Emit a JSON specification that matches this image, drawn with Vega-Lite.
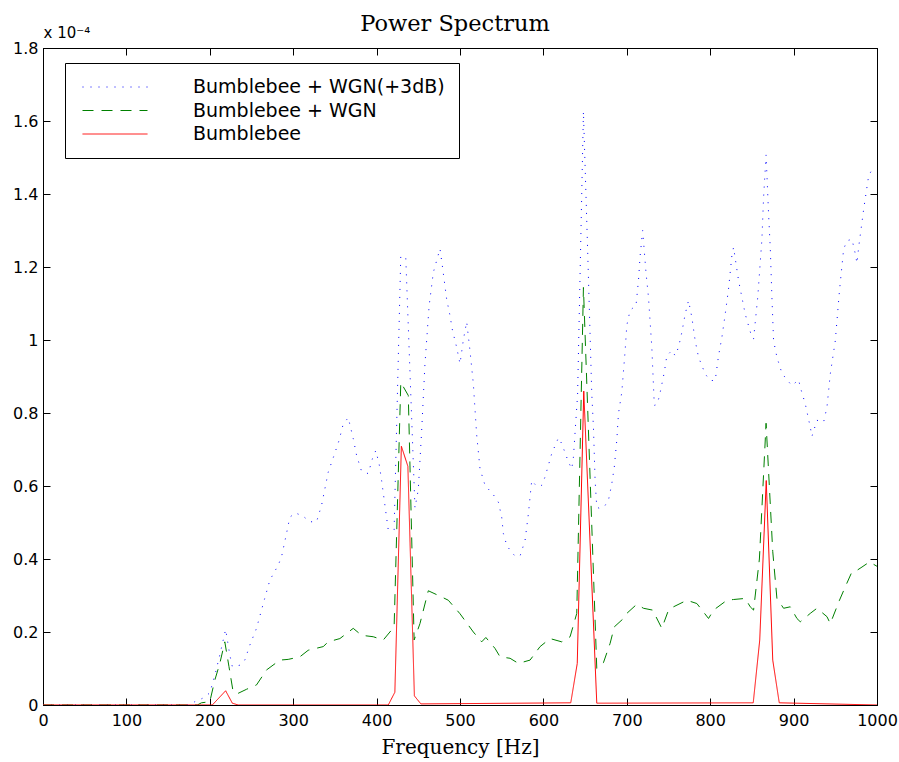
{
"$schema": "https://vega.github.io/schema/vega-lite/v6.json",
"width": 834, "height": 657,
"autosize": {"type": "none"},
"padding": {"left": 43, "top": 48, "right": 22, "bottom": 57},
"background": "white",
"title": {"text": "Power Spectrum", "font": "DejaVu Serif", "fontSize": 22.5, "fontWeight": "normal", "color": "black", "anchor": "middle", "frame": "group", "baseline": "alphabetic", "offset": -8, "dy": 20, "dx": -5},
"datasets": {
"pts": [
{"s":"Bumblebee + WGN(+3dB)","f":0,"p":0},{"s":"Bumblebee + WGN(+3dB)","f":175,"p":0},{"s":"Bumblebee + WGN(+3dB)","f":182,"p":0.009},{"s":"Bumblebee + WGN(+3dB)","f":191,"p":0.018},{"s":"Bumblebee + WGN(+3dB)","f":200,"p":0.033},{"s":"Bumblebee + WGN(+3dB)","f":207,"p":0.09},{"s":"Bumblebee + WGN(+3dB)","f":212,"p":0.137},{"s":"Bumblebee + WGN(+3dB)","f":219,"p":0.207},{"s":"Bumblebee + WGN(+3dB)","f":224,"p":0.137},{"s":"Bumblebee + WGN(+3dB)","f":227,"p":0.105},{"s":"Bumblebee + WGN(+3dB)","f":236,"p":0.109},{"s":"Bumblebee + WGN(+3dB)","f":242,"p":0.123},{"s":"Bumblebee + WGN(+3dB)","f":248,"p":0.164},{"s":"Bumblebee + WGN(+3dB)","f":256,"p":0.21},{"s":"Bumblebee + WGN(+3dB)","f":264,"p":0.277},{"s":"Bumblebee + WGN(+3dB)","f":272,"p":0.342},{"s":"Bumblebee + WGN(+3dB)","f":282,"p":0.383},{"s":"Bumblebee + WGN(+3dB)","f":286,"p":0.406},{"s":"Bumblebee + WGN(+3dB)","f":292,"p":0.47},{"s":"Bumblebee + WGN(+3dB)","f":296,"p":0.515},{"s":"Bumblebee + WGN(+3dB)","f":303,"p":0.526},{"s":"Bumblebee + WGN(+3dB)","f":312,"p":0.517},{"s":"Bumblebee + WGN(+3dB)","f":320,"p":0.502},{"s":"Bumblebee + WGN(+3dB)","f":328,"p":0.502},{"s":"Bumblebee + WGN(+3dB)","f":334,"p":0.547},{"s":"Bumblebee + WGN(+3dB)","f":342,"p":0.638},{"s":"Bumblebee + WGN(+3dB)","f":349,"p":0.684},{"s":"Bumblebee + WGN(+3dB)","f":355,"p":0.725},{"s":"Bumblebee + WGN(+3dB)","f":360,"p":0.77},{"s":"Bumblebee + WGN(+3dB)","f":366,"p":0.787},{"s":"Bumblebee + WGN(+3dB)","f":372,"p":0.73},{"s":"Bumblebee + WGN(+3dB)","f":376,"p":0.684},{"s":"Bumblebee + WGN(+3dB)","f":382,"p":0.64},{"s":"Bumblebee + WGN(+3dB)","f":390,"p":0.634},{"s":"Bumblebee + WGN(+3dB)","f":395,"p":0.675},{"s":"Bumblebee + WGN(+3dB)","f":399,"p":0.697},{"s":"Bumblebee + WGN(+3dB)","f":403,"p":0.661},{"s":"Bumblebee + WGN(+3dB)","f":406,"p":0.615},{"s":"Bumblebee + WGN(+3dB)","f":410,"p":0.547},{"s":"Bumblebee + WGN(+3dB)","f":414,"p":0.479},{"s":"Bumblebee + WGN(+3dB)","f":421,"p":0.48},{"s":"Bumblebee + WGN(+3dB)","f":429,"p":1.231},{"s":"Bumblebee + WGN(+3dB)","f":435,"p":1.224},{"s":"Bumblebee + WGN(+3dB)","f":446,"p":0.54},{"s":"Bumblebee + WGN(+3dB)","f":450,"p":0.59},{"s":"Bumblebee + WGN(+3dB)","f":454,"p":0.75},{"s":"Bumblebee + WGN(+3dB)","f":458,"p":0.935},{"s":"Bumblebee + WGN(+3dB)","f":463,"p":1.094},{"s":"Bumblebee + WGN(+3dB)","f":468,"p":1.185},{"s":"Bumblebee + WGN(+3dB)","f":476,"p":1.25},{"s":"Bumblebee + WGN(+3dB)","f":479,"p":1.2},{"s":"Bumblebee + WGN(+3dB)","f":484,"p":1.112},{"s":"Bumblebee + WGN(+3dB)","f":488,"p":1.067},{"s":"Bumblebee + WGN(+3dB)","f":491,"p":1.026},{"s":"Bumblebee + WGN(+3dB)","f":496,"p":0.98},{"s":"Bumblebee + WGN(+3dB)","f":500,"p":0.935},{"s":"Bumblebee + WGN(+3dB)","f":504,"p":1.0},{"s":"Bumblebee + WGN(+3dB)","f":508,"p":1.05},{"s":"Bumblebee + WGN(+3dB)","f":512,"p":0.97},{"s":"Bumblebee + WGN(+3dB)","f":516,"p":0.88},{"s":"Bumblebee + WGN(+3dB)","f":520,"p":0.74},{"s":"Bumblebee + WGN(+3dB)","f":524,"p":0.647},{"s":"Bumblebee + WGN(+3dB)","f":530,"p":0.602},{"s":"Bumblebee + WGN(+3dB)","f":540,"p":0.576},{"s":"Bumblebee + WGN(+3dB)","f":546,"p":0.556},{"s":"Bumblebee + WGN(+3dB)","f":550,"p":0.515},{"s":"Bumblebee + WGN(+3dB)","f":552,"p":0.47},{"s":"Bumblebee + WGN(+3dB)","f":556,"p":0.438},{"s":"Bumblebee + WGN(+3dB)","f":560,"p":0.424},{"s":"Bumblebee + WGN(+3dB)","f":566,"p":0.408},{"s":"Bumblebee + WGN(+3dB)","f":572,"p":0.408},{"s":"Bumblebee + WGN(+3dB)","f":578,"p":0.451},{"s":"Bumblebee + WGN(+3dB)","f":582,"p":0.524},{"s":"Bumblebee + WGN(+3dB)","f":586,"p":0.615},{"s":"Bumblebee + WGN(+3dB)","f":592,"p":0.599},{"s":"Bumblebee + WGN(+3dB)","f":598,"p":0.602},{"s":"Bumblebee + WGN(+3dB)","f":602,"p":0.625},{"s":"Bumblebee + WGN(+3dB)","f":610,"p":0.689},{"s":"Bumblebee + WGN(+3dB)","f":618,"p":0.732},{"s":"Bumblebee + WGN(+3dB)","f":622,"p":0.716},{"s":"Bumblebee + WGN(+3dB)","f":630,"p":0.666},{"s":"Bumblebee + WGN(+3dB)","f":634,"p":0.647},{"s":"Bumblebee + WGN(+3dB)","f":636,"p":0.679},{"s":"Bumblebee + WGN(+3dB)","f":641,"p":0.85},{"s":"Bumblebee + WGN(+3dB)","f":648,"p":1.626},{"s":"Bumblebee + WGN(+3dB)","f":653,"p":1.25},{"s":"Bumblebee + WGN(+3dB)","f":658,"p":0.853},{"s":"Bumblebee + WGN(+3dB)","f":660,"p":0.761},{"s":"Bumblebee + WGN(+3dB)","f":662,"p":0.615},{"s":"Bumblebee + WGN(+3dB)","f":664,"p":0.542},{"s":"Bumblebee + WGN(+3dB)","f":668,"p":0.538},{"s":"Bumblebee + WGN(+3dB)","f":674,"p":0.547},{"s":"Bumblebee + WGN(+3dB)","f":678,"p":0.561},{"s":"Bumblebee + WGN(+3dB)","f":682,"p":0.606},{"s":"Bumblebee + WGN(+3dB)","f":685,"p":0.652},{"s":"Bumblebee + WGN(+3dB)","f":688,"p":0.725},{"s":"Bumblebee + WGN(+3dB)","f":690,"p":0.798},{"s":"Bumblebee + WGN(+3dB)","f":694,"p":0.857},{"s":"Bumblebee + WGN(+3dB)","f":698,"p":0.971},{"s":"Bumblebee + WGN(+3dB)","f":700,"p":1.04},{"s":"Bumblebee + WGN(+3dB)","f":704,"p":1.082},{"s":"Bumblebee + WGN(+3dB)","f":711,"p":1.094},{"s":"Bumblebee + WGN(+3dB)","f":714,"p":1.163},{"s":"Bumblebee + WGN(+3dB)","f":716,"p":1.231},{"s":"Bumblebee + WGN(+3dB)","f":719,"p":1.3},{"s":"Bumblebee + WGN(+3dB)","f":723,"p":1.185},{"s":"Bumblebee + WGN(+3dB)","f":726,"p":1.117},{"s":"Bumblebee + WGN(+3dB)","f":730,"p":0.98},{"s":"Bumblebee + WGN(+3dB)","f":733,"p":0.821},{"s":"Bumblebee + WGN(+3dB)","f":736,"p":0.823},{"s":"Bumblebee + WGN(+3dB)","f":739,"p":0.845},{"s":"Bumblebee + WGN(+3dB)","f":745,"p":0.912},{"s":"Bumblebee + WGN(+3dB)","f":748,"p":0.957},{"s":"Bumblebee + WGN(+3dB)","f":754,"p":0.971},{"s":"Bumblebee + WGN(+3dB)","f":758,"p":0.957},{"s":"Bumblebee + WGN(+3dB)","f":762,"p":0.98},{"s":"Bumblebee + WGN(+3dB)","f":766,"p":1.021},{"s":"Bumblebee + WGN(+3dB)","f":770,"p":1.071},{"s":"Bumblebee + WGN(+3dB)","f":774,"p":1.108},{"s":"Bumblebee + WGN(+3dB)","f":778,"p":1.062},{"s":"Bumblebee + WGN(+3dB)","f":782,"p":0.998},{"s":"Bumblebee + WGN(+3dB)","f":786,"p":0.953},{"s":"Bumblebee + WGN(+3dB)","f":794,"p":0.907},{"s":"Bumblebee + WGN(+3dB)","f":800,"p":0.889},{"s":"Bumblebee + WGN(+3dB)","f":806,"p":0.889},{"s":"Bumblebee + WGN(+3dB)","f":810,"p":0.957},{"s":"Bumblebee + WGN(+3dB)","f":814,"p":1.007},{"s":"Bumblebee + WGN(+3dB)","f":818,"p":1.071},{"s":"Bumblebee + WGN(+3dB)","f":822,"p":1.14},{"s":"Bumblebee + WGN(+3dB)","f":826,"p":1.231},{"s":"Bumblebee + WGN(+3dB)","f":828,"p":1.254},{"s":"Bumblebee + WGN(+3dB)","f":834,"p":1.163},{"s":"Bumblebee + WGN(+3dB)","f":842,"p":1.071},{"s":"Bumblebee + WGN(+3dB)","f":850,"p":1.007},{"s":"Bumblebee + WGN(+3dB)","f":852,"p":1.003},{"s":"Bumblebee + WGN(+3dB)","f":857,"p":1.117},{"s":"Bumblebee + WGN(+3dB)","f":862,"p":1.276},{"s":"Bumblebee + WGN(+3dB)","f":864,"p":1.39},{"s":"Bumblebee + WGN(+3dB)","f":867,"p":1.507},{"s":"Bumblebee + WGN(+3dB)","f":870,"p":1.345},{"s":"Bumblebee + WGN(+3dB)","f":872,"p":1.254},{"s":"Bumblebee + WGN(+3dB)","f":874,"p":1.117},{"s":"Bumblebee + WGN(+3dB)","f":876,"p":0.998},{"s":"Bumblebee + WGN(+3dB)","f":880,"p":0.953},{"s":"Bumblebee + WGN(+3dB)","f":886,"p":0.909},{"s":"Bumblebee + WGN(+3dB)","f":892,"p":0.891},{"s":"Bumblebee + WGN(+3dB)","f":898,"p":0.875},{"s":"Bumblebee + WGN(+3dB)","f":906,"p":0.891},{"s":"Bumblebee + WGN(+3dB)","f":908,"p":0.871},{"s":"Bumblebee + WGN(+3dB)","f":914,"p":0.825},{"s":"Bumblebee + WGN(+3dB)","f":920,"p":0.761},{"s":"Bumblebee + WGN(+3dB)","f":922,"p":0.736},{"s":"Bumblebee + WGN(+3dB)","f":928,"p":0.78},{"s":"Bumblebee + WGN(+3dB)","f":936,"p":0.775},{"s":"Bumblebee + WGN(+3dB)","f":940,"p":0.816},{"s":"Bumblebee + WGN(+3dB)","f":944,"p":0.907},{"s":"Bumblebee + WGN(+3dB)","f":950,"p":0.998},{"s":"Bumblebee + WGN(+3dB)","f":955,"p":1.135},{"s":"Bumblebee + WGN(+3dB)","f":960,"p":1.249},{"s":"Bumblebee + WGN(+3dB)","f":964,"p":1.272},{"s":"Bumblebee + WGN(+3dB)","f":970,"p":1.276},{"s":"Bumblebee + WGN(+3dB)","f":974,"p":1.236},{"s":"Bumblebee + WGN(+3dB)","f":976,"p":1.21},{"s":"Bumblebee + WGN(+3dB)","f":978,"p":1.254},{"s":"Bumblebee + WGN(+3dB)","f":984,"p":1.358},{"s":"Bumblebee + WGN(+3dB)","f":990,"p":1.45},{"s":"Bumblebee + WGN(+3dB)","f":996,"p":1.475},
{"s":"Bumblebee + WGN","f":0,"p":0},{"s":"Bumblebee + WGN","f":185,"p":0},{"s":"Bumblebee + WGN","f":190,"p":0.006},{"s":"Bumblebee + WGN","f":200,"p":0.009},{"s":"Bumblebee + WGN","f":206,"p":0.068},{"s":"Bumblebee + WGN","f":212,"p":0.114},{"s":"Bumblebee + WGN","f":218,"p":0.173},{"s":"Bumblebee + WGN","f":223,"p":0.105},{"s":"Bumblebee + WGN","f":228,"p":0.036},{"s":"Bumblebee + WGN","f":234,"p":0.032},{"s":"Bumblebee + WGN","f":244,"p":0.043},{"s":"Bumblebee + WGN","f":256,"p":0.055},{"s":"Bumblebee + WGN","f":268,"p":0.096},{"s":"Bumblebee + WGN","f":284,"p":0.123},{"s":"Bumblebee + WGN","f":294,"p":0.125},{"s":"Bumblebee + WGN","f":308,"p":0.132},{"s":"Bumblebee + WGN","f":318,"p":0.15},{"s":"Bumblebee + WGN","f":336,"p":0.16},{"s":"Bumblebee + WGN","f":342,"p":0.173},{"s":"Bumblebee + WGN","f":356,"p":0.182},{"s":"Bumblebee + WGN","f":364,"p":0.196},{"s":"Bumblebee + WGN","f":372,"p":0.21},{"s":"Bumblebee + WGN","f":382,"p":0.191},{"s":"Bumblebee + WGN","f":396,"p":0.187},{"s":"Bumblebee + WGN","f":408,"p":0.178},{"s":"Bumblebee + WGN","f":421,"p":0.214},{"s":"Bumblebee + WGN","f":429,"p":0.884},{"s":"Bumblebee + WGN","f":438,"p":0.848},{"s":"Bumblebee + WGN","f":445,"p":0.178},{"s":"Bumblebee + WGN","f":452,"p":0.223},{"s":"Bumblebee + WGN","f":462,"p":0.313},{"s":"Bumblebee + WGN","f":478,"p":0.296},{"s":"Bumblebee + WGN","f":486,"p":0.287},{"s":"Bumblebee + WGN","f":500,"p":0.25},{"s":"Bumblebee + WGN","f":516,"p":0.2},{"s":"Bumblebee + WGN","f":526,"p":0.173},{"s":"Bumblebee + WGN","f":531,"p":0.185},{"s":"Bumblebee + WGN","f":542,"p":0.155},{"s":"Bumblebee + WGN","f":548,"p":0.132},{"s":"Bumblebee + WGN","f":560,"p":0.128},{"s":"Bumblebee + WGN","f":570,"p":0.114},{"s":"Bumblebee + WGN","f":584,"p":0.123},{"s":"Bumblebee + WGN","f":596,"p":0.16},{"s":"Bumblebee + WGN","f":608,"p":0.182},{"s":"Bumblebee + WGN","f":622,"p":0.173},{"s":"Bumblebee + WGN","f":632,"p":0.187},{"s":"Bumblebee + WGN","f":640,"p":0.251},{"s":"Bumblebee + WGN","f":648,"p":1.144},{"s":"Bumblebee + WGN","f":664,"p":0.1},{"s":"Bumblebee + WGN","f":672,"p":0.116},{"s":"Bumblebee + WGN","f":680,"p":0.169},{"s":"Bumblebee + WGN","f":685,"p":0.214},{"s":"Bumblebee + WGN","f":696,"p":0.237},{"s":"Bumblebee + WGN","f":700,"p":0.251},{"s":"Bumblebee + WGN","f":712,"p":0.276},{"s":"Bumblebee + WGN","f":720,"p":0.265},{"s":"Bumblebee + WGN","f":731,"p":0.26},{"s":"Bumblebee + WGN","f":742,"p":0.21},{"s":"Bumblebee + WGN","f":750,"p":0.26},{"s":"Bumblebee + WGN","f":756,"p":0.269},{"s":"Bumblebee + WGN","f":772,"p":0.287},{"s":"Bumblebee + WGN","f":784,"p":0.278},{"s":"Bumblebee + WGN","f":798,"p":0.237},{"s":"Bumblebee + WGN","f":804,"p":0.26},{"s":"Bumblebee + WGN","f":820,"p":0.287},{"s":"Bumblebee + WGN","f":828,"p":0.289},{"s":"Bumblebee + WGN","f":842,"p":0.292},{"s":"Bumblebee + WGN","f":848,"p":0.269},{"s":"Bumblebee + WGN","f":852,"p":0.26},{"s":"Bumblebee + WGN","f":859,"p":0.4},{"s":"Bumblebee + WGN","f":867,"p":0.772},{"s":"Bumblebee + WGN","f":875,"p":0.42},{"s":"Bumblebee + WGN","f":880,"p":0.292},{"s":"Bumblebee + WGN","f":888,"p":0.265},{"s":"Bumblebee + WGN","f":896,"p":0.269},{"s":"Bumblebee + WGN","f":904,"p":0.237},{"s":"Bumblebee + WGN","f":908,"p":0.228},{"s":"Bumblebee + WGN","f":920,"p":0.251},{"s":"Bumblebee + WGN","f":928,"p":0.265},{"s":"Bumblebee + WGN","f":940,"p":0.242},{"s":"Bumblebee + WGN","f":944,"p":0.223},{"s":"Bumblebee + WGN","f":955,"p":0.287},{"s":"Bumblebee + WGN","f":962,"p":0.324},{"s":"Bumblebee + WGN","f":970,"p":0.365},{"s":"Bumblebee + WGN","f":976,"p":0.369},{"s":"Bumblebee + WGN","f":982,"p":0.378},{"s":"Bumblebee + WGN","f":991,"p":0.392},{"s":"Bumblebee + WGN","f":1000,"p":0.38},
{"s":"Bumblebee","f":0,"p":0},{"s":"Bumblebee","f":203,"p":0},{"s":"Bumblebee","f":219,"p":0.039},{"s":"Bumblebee","f":227,"p":0.005},{"s":"Bumblebee","f":234,"p":0},{"s":"Bumblebee","f":414,"p":0},{"s":"Bumblebee","f":421.9,"p":0.035},{"s":"Bumblebee","f":429.7,"p":0.709},{"s":"Bumblebee","f":437.5,"p":0.654},{"s":"Bumblebee","f":445.3,"p":0.025},{"s":"Bumblebee","f":453.1,"p":0.003},{"s":"Bumblebee","f":632.8,"p":0.006},{"s":"Bumblebee","f":640.6,"p":0.114},{"s":"Bumblebee","f":648.4,"p":0.86},{"s":"Bumblebee","f":664,"p":0.005},{"s":"Bumblebee","f":851.6,"p":0.006},{"s":"Bumblebee","f":859.4,"p":0.178},{"s":"Bumblebee","f":867.2,"p":0.615},{"s":"Bumblebee","f":875,"p":0.123},{"s":"Bumblebee","f":882.8,"p":0.006},{"s":"Bumblebee","f":1000,"p":0}
]
},
"data": {"name": "pts"},
"layer": [
{
"mark": {"type": "line", "strokeWidth": 1, "clip": true},
"encoding": {
"x": {"field": "f", "type": "quantitative", "scale": {"domain": [0, 1000], "nice": false, "zero": false},
"axis": {"orient": "bottom", "values": [0,100,200,300,400,500,600,700,800,900,1000], "format": "d", "labelFlush": false, "labelPadding": 14, "title": "Frequency [Hz]", "titleFont": "DejaVu Serif", "titleFontSize": 20, "titleFontWeight": "normal", "titleBaseline": "alphabetic", "titleY": 48}},
"y": {"field": "p", "type": "quantitative", "scale": {"domain": [0, 1.8], "nice": false},
"axis": {"orient": "left", "values": [0,0.2,0.4,0.6,0.8,1,1.2,1.4,1.6,1.8], "format": "~g", "labelFlush": false, "labelPadding": 12, "title": "x 10⁻⁴", "titleAngle": 0, "titleAlign": "left", "titleBaseline": "alphabetic", "titleX": 0, "titleY": -11, "titleFont": "DejaVu Sans", "titleFontSize": 15, "titleFontWeight": "normal"}},
"color": {"field": "s", "type": "nominal",
"scale": {"domain": ["Bumblebee + WGN(+3dB)", "Bumblebee + WGN", "Bumblebee"], "range": ["#0000ff", "#008000", "#ff0000"]},
"legend": {"title": null, "orient": "none", "legendX": 22, "legendY": 15, "symbolType": "stroke", "symbolSize": 4225, "symbolStrokeWidth": 1, "symbolOffset": 3, "labelFont": "DejaVu Sans", "labelFontSize": 19, "labelColor": "black", "labelLimit": 400, "labelOffset": 45, "padding": 14, "rowPadding": 3.5, "clipHeight": 20, "fillColor": "white", "strokeColor": "black", "cornerRadius": 0}},
"strokeDash": {"field": "s", "type": "nominal",
"scale": {"domain": ["Bumblebee + WGN(+3dB)", "Bumblebee + WGN", "Bumblebee"], "range": [[1, 7], [11, 8], [1, 0]]},
"legend": {"title": null, "orient": "none", "legendX": 22, "legendY": 15, "symbolType": "stroke", "symbolSize": 4225, "symbolStrokeWidth": 1, "symbolOffset": 3, "labelFont": "DejaVu Sans", "labelFontSize": 19, "labelColor": "black", "labelLimit": 400, "labelOffset": 45, "padding": 14, "rowPadding": 3.5, "clipHeight": 20, "fillColor": "white", "strokeColor": "black", "cornerRadius": 0}}
}
},
{
"mark": {"type": "point", "opacity": 0},
"encoding": {
"x": {"field": "f", "type": "quantitative", "scale": {"domain": [0, 1000], "nice": false, "zero": false}, "axis": {"orient": "top", "values": [0,100,200,300,400,500,600,700,800,900,1000], "labels": false, "title": null}},
"y": {"field": "p", "type": "quantitative", "scale": {"domain": [0, 1.8], "nice": false}, "axis": {"orient": "right", "values": [0,0.2,0.4,0.6,0.8,1,1.2,1.4,1.6,1.8], "labels": false, "title": null}}
}
}
],
"resolve": {"axis": {"x": "independent", "y": "independent"}},
"config": {
"view": {"stroke": "black", "strokeWidth": 1},
"axis": {"grid": false, "domainColor": "black", "domainWidth": 1, "tickColor": "black", "tickWidth": 1, "tickSize": -7, "labelColor": "black", "titleColor": "black", "labelFont": "DejaVu Sans", "labelFontSize": 16}
}
}
